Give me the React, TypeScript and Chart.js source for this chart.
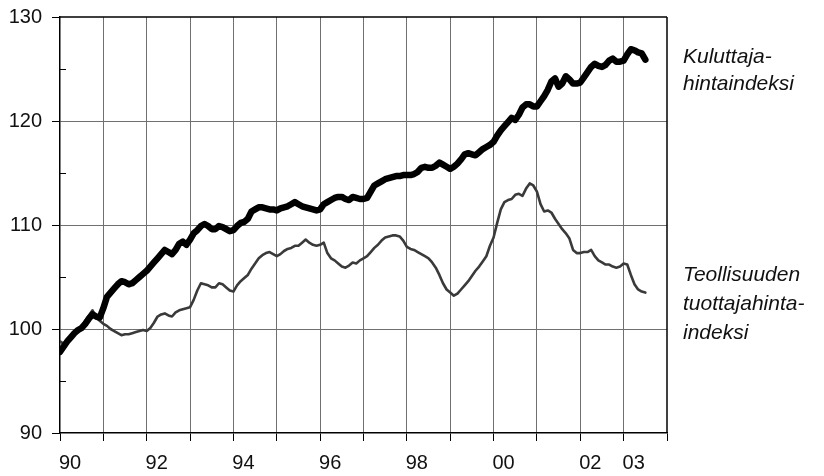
import React, { useEffect, useRef } from "react";
import { Chart, registerables } from "chart.js";

Chart.register(...registerables);

const startYear = 1990;

// Kuluttajahintaindeksi, monthly Jan 1990 – Jul 2003
const cpi = [
  97.8, 98.3, 98.8, 99.2, 99.6, 99.9, 100.1, 100.5, 101.0, 101.4, 101.2, 101.1,
  102.0, 103.1, 103.5, 103.9, 104.3, 104.6, 104.5, 104.3, 104.4, 104.7, 105.0, 105.3,
  105.6, 106.0, 106.4, 106.8, 107.2, 107.6, 107.4, 107.2, 107.6, 108.2, 108.4, 108.1,
  108.6, 109.2, 109.5, 109.9, 110.1, 109.9, 109.6, 109.6, 109.9, 109.8, 109.6, 109.4,
  109.5, 109.9, 110.2, 110.3, 110.6, 111.3, 111.5, 111.7, 111.7, 111.6, 111.5, 111.5,
  111.4, 111.6, 111.7, 111.8, 112.0, 112.2, 112.0, 111.8, 111.7, 111.6, 111.5, 111.4,
  111.5, 112.0, 112.2, 112.4, 112.6, 112.7, 112.7, 112.5, 112.4, 112.7, 112.6, 112.5,
  112.5, 112.6, 113.2, 113.8, 114.0, 114.2, 114.4, 114.5, 114.6, 114.7, 114.7, 114.8,
  114.8, 114.8, 114.9, 115.1, 115.5, 115.6, 115.5, 115.5, 115.7, 116.0, 115.8, 115.6,
  115.4, 115.6, 115.9, 116.3, 116.8, 116.9, 116.8, 116.7, 117.0, 117.3, 117.5, 117.7,
  118.0, 118.6, 119.1, 119.5, 119.9, 120.3, 120.1, 120.6, 121.3, 121.6, 121.6, 121.4,
  121.4, 121.9, 122.4, 123.0, 123.8, 124.1, 123.3, 123.6, 124.3, 124.0, 123.6, 123.6,
  123.7, 124.2, 124.7, 125.2, 125.5, 125.3, 125.2, 125.4, 125.8, 126.0, 125.7, 125.7,
  125.8, 126.4, 126.9, 126.8, 126.6, 126.5, 125.9,
];

// Teollisuuden tuottajahintaindeksi, monthly Jan 1990 – Jul 2003
const ppi = [
  98.8, 98.6, 99.0, 99.4, 99.8, 100.0, 100.3, 100.8, 101.3, 101.8, 101.1, 100.8,
  100.5, 100.3, 100.0, 99.8, 99.6, 99.4, 99.5, 99.5, 99.6, 99.7, 99.8, 99.9,
  99.8, 100.1, 100.6, 101.2, 101.4, 101.5, 101.3, 101.2, 101.6, 101.8, 101.9, 102.0,
  102.1, 102.8, 103.7, 104.4, 104.3, 104.2, 104.0, 104.0, 104.4, 104.3, 104.0, 103.7,
  103.6, 104.2, 104.6, 104.9, 105.2, 105.8, 106.3, 106.8, 107.1, 107.3, 107.4, 107.2,
  107.0, 107.2, 107.5, 107.7, 107.8, 108.0, 108.0, 108.3, 108.6, 108.3, 108.1, 108.0,
  108.1, 108.3, 107.3, 106.8, 106.6, 106.3, 106.0, 105.9, 106.1, 106.4, 106.3, 106.6,
  106.8, 107.0, 107.4, 107.8, 108.1, 108.5, 108.8, 108.9, 109.0, 109.0, 108.9, 108.5,
  107.9, 107.7, 107.6, 107.4, 107.2, 107.0, 106.8, 106.4, 105.9, 105.2, 104.4, 103.8,
  103.5, 103.2, 103.4, 103.8, 104.2, 104.6, 105.1, 105.6, 106.0, 106.5, 107.0, 108.0,
  108.8, 110.2, 111.5, 112.2, 112.4, 112.5, 112.9, 113.0, 112.8, 113.5, 114.0, 113.8,
  113.2, 112.0, 111.3, 111.4, 111.2, 110.6, 110.1, 109.6, 109.2, 108.7, 107.6, 107.3,
  107.3, 107.4, 107.4, 107.6, 107.0, 106.6, 106.4, 106.2, 106.2, 106.0, 105.9, 106.0,
  106.3, 106.2, 105.2, 104.3, 103.8, 103.6, 103.5,
];

const xTickYears = [1990, 1991, 1992, 1993, 1994, 1995, 1996, 1997, 1998, 1999, 2000, 2001, 2002, 2003, 2004];
const xTickLabels = ["90", "", "92", "", "94", "", "96", "", "98", "", "00", "", "02", "03", ""];
const yMajorTicks = [90, 100, 110, 120, 130];
const yMinorTicks = [95, 105, 115, 125];

const seriesLabels = [
  { lines: ["Kuluttaja-", "hintaindeksi"], value: 126.9, lineGap: 27 },
  { lines: ["Teollisuuden", "tuottajahinta-", "indeksi"], value: 106.0, lineGap: 29 },
];

const FONT = "'Liberation Sans', Arial, Helvetica, sans-serif";

const toPoints = (arr: number[]) =>
  arr.map((v, i) => ({ x: startYear + i / 12, y: v }));

const framePlugin = {
  id: "framePlugin",
  afterDraw(chart: any) {
    const { ctx, chartArea } = chart;
    const yScale = chart.scales.y;
    ctx.save();
    ctx.strokeStyle = "#000";
    ctx.lineWidth = 1.5;
    ctx.beginPath();
    ctx.moveTo(chartArea.left, chartArea.top);
    ctx.lineTo(chartArea.right, chartArea.top);
    ctx.moveTo(chartArea.right, chartArea.top);
    ctx.lineTo(chartArea.right, chartArea.bottom);
    ctx.stroke();
    // minor inward ticks on y axis
    ctx.lineWidth = 1.2;
    ctx.beginPath();
    yMinorTicks.forEach((v) => {
      const py = Math.round(yScale.getPixelForValue(v)) + 0.5;
      ctx.moveTo(chartArea.left, py);
      ctx.lineTo(chartArea.left + 6, py);
    });
    ctx.stroke();
    // series labels
    ctx.fillStyle = "#111";
    ctx.font = `italic 21px ${FONT}`;
    ctx.textBaseline = "alphabetic";
    ctx.textAlign = "left";
    const lx = chartArea.right + 16;
    seriesLabels.forEach((s) => {
      const y0 = yScale.getPixelForValue(s.value);
      s.lines.forEach((t, i) => ctx.fillText(t, lx, y0 + 14 + i * s.lineGap));
    });
    ctx.restore();
  },
};

export default function App() {
  const canvasRef = useRef<HTMLCanvasElement | null>(null);

  useEffect(() => {
    document.body.style.margin = "0";
    const canvas = canvasRef.current;
    if (!canvas) return;
    const chart = new Chart(canvas, {
      type: "line",
      data: {
        datasets: [
          {
            label: "Kuluttajahintaindeksi",
            data: toPoints(cpi),
            borderColor: "#000",
            borderWidth: 6.5,
            pointRadius: 0,
            tension: 0,
            borderJoinStyle: "round",
            borderCapStyle: "round",
          },
          {
            label: "Teollisuuden tuottajahintaindeksi",
            data: toPoints(ppi),
            borderColor: "#3a3a3a",
            borderWidth: 2.6,
            pointRadius: 0,
            tension: 0,
            borderJoinStyle: "round",
            borderCapStyle: "round",
          },
        ],
      },
      options: {
        responsive: false,
        animation: false,
        devicePixelRatio: 1,
        layout: { padding: { top: 17, right: 157, left: 0, bottom: 0 } },
        plugins: { legend: { display: false }, tooltip: { enabled: false } },
        scales: {
          x: {
            type: "linear",
            min: 1990,
            max: 2004,
            afterFit: (s: any) => {
              s.height = 43;
              s.paddingLeft = 0;
              s.paddingRight = 0;
            },
            afterBuildTicks: (s: any) => {
              s.ticks = xTickYears.map((v) => ({ value: v }));
            },
            ticks: {
              autoSkip: false,
              maxRotation: 0,
              labelOffset: 10,
              padding: 10,
              color: "#111",
              font: { family: FONT, size: 20 },
              callback: (v: any) => {
                const idx = xTickYears.indexOf(Number(v));
                return idx >= 0 ? xTickLabels[idx] : "";
              },
            },
            grid: {
              color: (c: any) =>
                c.tick && (c.tick.value === 1990 || c.tick.value === 2004) ? "rgba(0,0,0,0)" : "#707070",
              lineWidth: 1,
              tickColor: "#000",
              tickLength: 8,
              drawTicks: true,
            },
            border: { display: true, color: "#000", width: 1.5 },
          },
          y: {
            type: "linear",
            min: 90,
            max: 130,
            afterFit: (s: any) => {
              s.width = 60;
              s.paddingTop = 0;
              s.paddingBottom = 0;
            },
            afterBuildTicks: (s: any) => {
              s.ticks = yMajorTicks.map((v) => ({ value: v }));
            },
            ticks: {
              padding: 10,
              color: "#111",
              font: { family: FONT, size: 20 },
              callback: (v: any) => String(v),
            },
            grid: {
              color: (c: any) =>
                c.tick && (c.tick.value === 90 || c.tick.value === 130) ? "rgba(0,0,0,0)" : "#707070",
              lineWidth: 1,
              tickColor: "#000",
              tickLength: 8,
              drawTicks: true,
            },
            border: { display: true, color: "#000", width: 1.5 },
          },
        },
      },
      plugins: [framePlugin],
    } as any);
    return () => chart.destroy();
  }, []);

  return (
    <div style={{ position: "absolute", left: 0, top: 0, width: 824, height: 476, background: "#fff" }}>
      <canvas ref={canvasRef} width={824} height={476} />
    </div>
  );
}
